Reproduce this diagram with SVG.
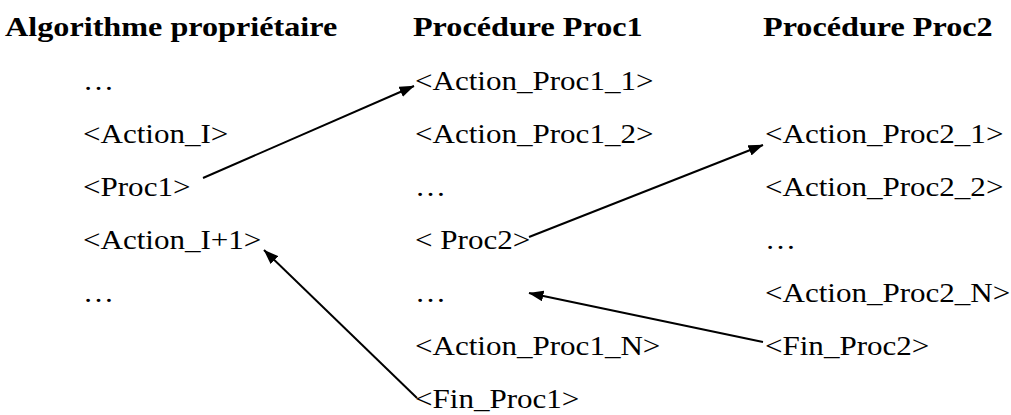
<svg xmlns="http://www.w3.org/2000/svg" width="1011" height="415" viewBox="0 0 1011 415">
<style>
text{font-family:"Liberation Serif","Times New Roman",serif;fill:#000}
.h{font-weight:bold;font-size:28px}
.t{font-size:27px}
.c{stroke:#000;stroke-width:2;fill:none;marker-end:url(#ah)}
</style>
<defs>
<marker id="ah" markerUnits="userSpaceOnUse" markerWidth="15" markerHeight="11" refX="14.5" refY="5.5" orient="auto">
<path d="M0,0 L15,5.5 L0,11 z" fill="#000"/>
</marker>
</defs>
<rect width="1011" height="415" fill="#fff"/>
<g transform="scale(1.15,1)">
<g id="col1">
<g id="h1"><text class="h" x="4.4" y="36">Algorithme propriétaire</text></g>
<g id="a1"><text class="t" x="72.2" y="90">…</text></g>
<g id="a2"><text class="t" x="72.2" y="143">&lt;Action_I&gt;</text></g>
<g id="a3"><text class="t" x="72.2" y="196">&lt;Proc1&gt;</text></g>
<g id="a4"><text class="t" x="72.2" y="249">&lt;Action_I+1&gt;</text></g>
<g id="a5"><text class="t" x="72.2" y="302">…</text></g>
</g>
<g id="col2">
<g id="h2"><text class="h" x="359.1" y="36">Procédure Proc1</text></g>
<g id="b1"><text class="t" x="360.9" y="90">&lt;Action_Proc1_1&gt;</text></g>
<g id="b2"><text class="t" x="360.9" y="143">&lt;Action_Proc1_2&gt;</text></g>
<g id="b3"><text class="t" x="360.9" y="196">…</text></g>
<g id="b4"><text class="t" x="360.9" y="249">&lt; Proc2&gt;</text></g>
<g id="b5"><text class="t" x="360.9" y="302">…</text></g>
<g id="b6"><text class="t" x="360.9" y="355">&lt;Action_Proc1_N&gt;</text></g>
<g id="b7"><text class="t" x="360.9" y="408">&lt;Fin_Proc1&gt;</text></g>
</g>
<g id="col3">
<g id="h3"><text class="h" x="663.5" y="36">Procédure Proc2</text></g>
<g id="c1"><text class="t" x="665.2" y="143">&lt;Action_Proc2_1&gt;</text></g>
<g id="c2"><text class="t" x="665.2" y="196">&lt;Action_Proc2_2&gt;</text></g>
<g id="c3"><text class="t" x="665.2" y="249">…</text></g>
<g id="c4"><text class="t" x="665.2" y="302">&lt;Action_Proc2_N&gt;</text></g>
<g id="c5"><text class="t" x="665.2" y="355">&lt;Fin_Proc2&gt;</text></g>
</g>
</g>
<g id="connectors">
<line class="c" x1="203" y1="178" x2="414" y2="86"/>
<line class="c" x1="529" y1="237" x2="763" y2="145"/>
<line class="c" x1="417" y1="398" x2="264" y2="250"/>
<line class="c" x1="763" y1="342" x2="529" y2="293"/>
</g>
</svg>
